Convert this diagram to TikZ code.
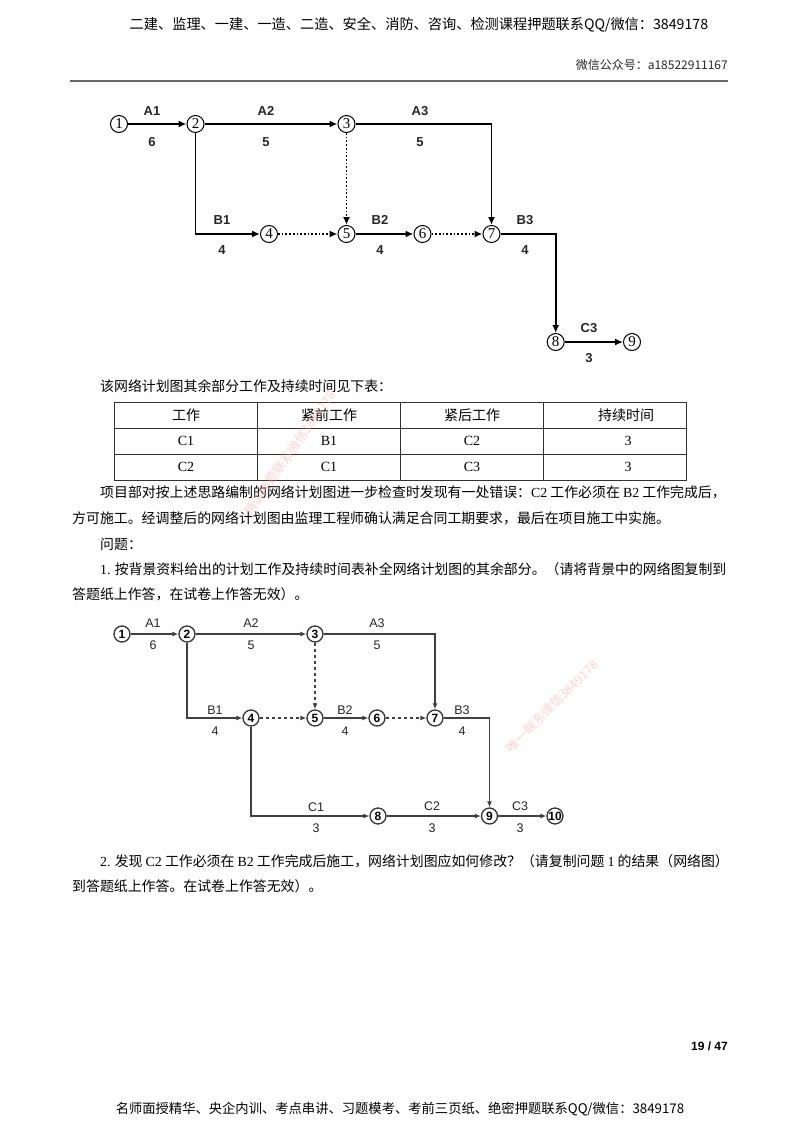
\documentclass[tikz,border=0pt]{standalone}
\usepackage{fontspec}
\setmainfont{Liberation Sans}
\newfontfamily\cjk{Noto Sans CJK SC}
\newfontfamily\tms{Liberation Serif}
\usetikzlibrary{shapes,arrows,arrows.meta,positioning}

\tikzset{
  evt/.style={circle,draw,line width=1pt,inner sep=0pt,minimum size=17pt,font=\tms\fontsize{15}{15}\selectfont},
  evtb/.style={circle,draw=black!80,line width=1.3pt,inner sep=0pt,minimum size=16pt,font=\bfseries\fontsize{12}{12}\selectfont},
  act/.style={line width=1.7pt,-{Latex[length=8pt,width=7pt]}},
  dum/.style={act,dotted},
  actb/.style={draw=black!75,line width=1.2pt,-{Latex[length=6pt,width=5pt]}},
  dumb/.style={actb,dashed},
  lab/.style={font=\bfseries\fontsize{13}{13}\selectfont,text=black!85},
  labb/.style={font=\fontsize{12.5}{12.5}\selectfont,text=black!85},
  txt/.style={anchor=west,inner sep=0pt,font=\cjk\fontsize{13.9}{17}\selectfont},
  cell/.style={inner sep=0pt,font=\cjk\fontsize{14}{17}\selectfont},
  tbl/.style={draw=black!80,line width=0.9pt},
  wm/.style={text=red!35,opacity=0.5,font=\cjk\fontsize{12.5}{14}\selectfont}
}

\begin{document}
\begin{tikzpicture}[x=1pt,y=-1pt]
\useasboundingbox (0,0) rectangle (800,1132);
\fill[white] (0,0) rectangle (800,1132);

% page head and foot
\node[inner sep=0pt,font=\cjk\fontsize{14.2}{16}\selectfont] (head) at (419,25) {二建、监理、一建、一造、二造、安全、消防、咨询、检测课程押题联系QQ/微信：3849178};
\node[inner sep=0pt,anchor=east,font=\cjk\fontsize{12}{14}\selectfont,text=black!85] (gzh) at (728,65) {微信公众号：a18522911167};
\draw[line width=1.8pt,black!60] (70,81) -- (728,81);
\node[inner sep=0pt,anchor=east,font=\bfseries\fontsize{12}{14}\selectfont] (page) at (728,1046) {19 / 47};
\node[inner sep=0pt,font=\cjk\fontsize{13.3}{16}\selectfont] (foot) at (400,1109) {名师面授精华、央企内训、考点串讲、习题模考、考前三页纸、绝密押题联系QQ/微信：3849178};

% first network
\node[evt] (n1) at (119,124) {1};
\node[evt] (n2) at (195.5,124) {2};
\node[evt] (n3) at (346.5,124) {3};
\node[evt] (n4) at (269,234) {4};
\node[evt] (n5) at (346.5,234) {5};
\node[evt] (n6) at (422.5,234) {6};
\node[evt] (n7) at (491.5,234) {7};
\node[evt] (n8) at (555.7,342) {8};
\node[evt] (n9) at (632,342) {9};

\draw[act] (n1) -- (n2);
\draw[act] (n2) -- (n3);
\draw[act] (n3) -| (n7);
\draw[act] (n2) |- (n4);
\draw[dum] (n4) -- (n5);
\draw[dum] (n3) -- (n5);
\draw[act] (n5) -- (n6);
\draw[dum] (n6) -- (n7);
\draw[act] (n7) -| (n8);
\draw[act] (n8) -- (n9);

\node[lab] (a1) at (152,111) {A1};
\node[lab] (a1t) at (152,142) {6};
\node[lab] (a2) at (266,111) {A2};
\node[lab] (a2t) at (266,142) {5};
\node[lab] (a3) at (420,111) {A3};
\node[lab] (a3t) at (420,142) {5};
\node[lab] (b1) at (222,220) {B1};
\node[lab] (b1t) at (222,250) {4};
\node[lab] (b2) at (380,220) {B2};
\node[lab] (b2t) at (380,250) {4};
\node[lab] (b3) at (525,220) {B3};
\node[lab] (b3t) at (525,250) {4};
\node[lab] (c3) at (589,328) {C3};
\node[lab] (c3t) at (589,358) {3};

% table
\node[txt] (intro) at (100,386) {该网络计划图其余部分工作及持续时间见下表：};
\draw[tbl] (114,402) rectangle (686,480);
\draw[tbl] (114,428) -- (686,428);
\draw[tbl] (114,454) -- (686,454);
\foreach \x in {257,400,543}
  \draw[tbl] (\x,402) -- (\x,480);
\node[cell] (h1) at (186,415) {工作};
\node[cell] (h2) at (329,415) {紧前工作};
\node[cell] (h3) at (472,415) {紧后工作};
\node[cell] (h4) at (626,415) {持续时间};
\node[cell,font=\tms\fontsize{14}{17}\selectfont] (r11) at (186,441) {C1};
\node[cell,font=\tms\fontsize{14}{17}\selectfont] (r12) at (329,441) {B1};
\node[cell,font=\tms\fontsize{14}{17}\selectfont] (r13) at (472,441) {C2};
\node[cell,font=\tms\fontsize{14}{17}\selectfont] (r14) at (628,441) {3};
\node[cell,font=\tms\fontsize{14}{17}\selectfont] (r21) at (186,467) {C2};
\node[cell,font=\tms\fontsize{14}{17}\selectfont] (r22) at (329,467) {C1};
\node[cell,font=\tms\fontsize{14}{17}\selectfont] (r23) at (472,467) {C3};
\node[cell,font=\tms\fontsize{14}{17}\selectfont] (r24) at (628,467) {3};

% text
\node[txt] (p1) at (100,492) {项目部对按上述思路编制的网络计划图进一步检查时发现有一处错误：{\tms C2} 工作必须在 {\tms B2} 工作完成后，};
\node[txt] (p2) at (72,518) {方可施工。经调整后的网络计划图由监理工程师确认满足合同工期要求，最后在项目施工中实施。};
\node[txt] (p3) at (100,544) {问题：};
\node[txt] (p4) at (100,569) {{\tms 1.} 按背景资料给出的计划工作及持续时间表补全网络计划图的其余部分。（请将背景中的网络图复制到};
\node[txt] (p5) at (72,594) {答题纸上作答，在试卷上作答无效）。};

% second network
\node[evtb] (m1) at (122,634) {1};
\node[evtb] (m2) at (187,634) {2};
\node[evtb] (m3) at (315,634) {3};
\node[evtb] (m4) at (251,718) {4};
\node[evtb] (m5) at (315,718) {5};
\node[evtb] (m6) at (377,718) {6};
\node[evtb] (m7) at (435,718) {7};
\node[evtb] (m8) at (378,816) {8};
\node[evtb] (m9) at (489.5,816) {9};
\node[evtb] (m10) at (555,816) {10};

\draw[actb] (m1) -- (m2);
\draw[actb] (m2) -- (m3);
\draw[actb] (m3) -| (m7);
\draw[actb] (m2) |- (m4);
\draw[dumb] (m4) -- (m5);
\draw[dumb] (m3) -- (m5);
\draw[actb] (m5) -- (m6);
\draw[dumb] (m6) -- (m7);
\draw[actb] (m7) -| (m9);
\draw[actb] (m4) |- (m8);
\draw[actb] (m8) -- (m9);
\draw[actb] (m9) -- (m10);

\node[labb] (d1) at (153,623) {A1};
\node[labb] (d1t) at (153,645) {6};
\node[labb] (d2) at (251,623) {A2};
\node[labb] (d2t) at (251,645) {5};
\node[labb] (d3) at (377,623) {A3};
\node[labb] (d3t) at (377,645) {5};
\node[labb] (e1) at (215,710) {B1};
\node[labb] (e1t) at (215,731) {4};
\node[labb] (e2) at (345,710) {B2};
\node[labb] (e2t) at (345,731) {4};
\node[labb] (e3) at (462,710) {B3};
\node[labb] (e3t) at (462,731) {4};
\node[labb] (f1) at (316,807) {C1};
\node[labb] (f1t) at (316,828) {3};
\node[labb] (f2) at (432,806) {C2};
\node[labb] (f2t) at (432,828) {3};
\node[labb] (f3) at (520,806) {C3};
\node[labb] (f3t) at (520,828) {3};

\node[txt] (q1) at (100,861) {{\tms 2.} 发现 {\tms C2} 工作必须在 {\tms B2} 工作完成后施工，网络计划图应如何修改？（请复制问题 {\tms 1} 的结果（网络图）};
\node[txt] (q2) at (72,886) {到答题纸上作答。在试卷上作答无效）。};

% watermarks
\node[wm,rotate=55] (wm1) at (290,453) {精讲押题联系微信3849178};
\node[wm,rotate=45] (wm2) at (552,706) {唯一联系微信3849178};
\end{tikzpicture}
\end{document}
